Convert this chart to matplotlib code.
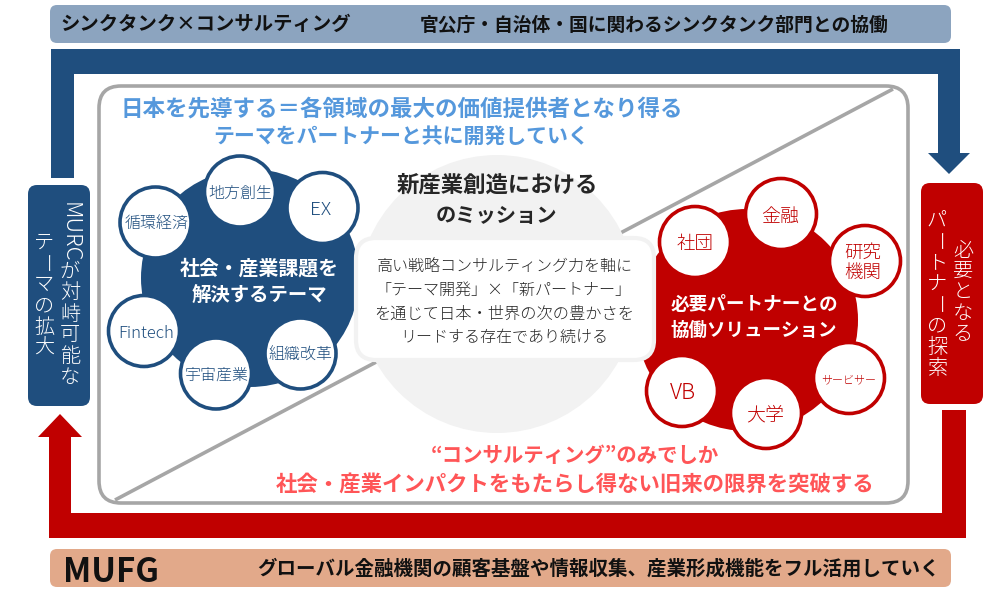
import matplotlib
matplotlib.use("Agg")
import matplotlib.pyplot as plt
from matplotlib.patches import Circle, FancyBboxPatch, Polygon

plt.rcParams['font.family'] = ['Noto Sans CJK JP', 'DejaVu Sans']

BLUE = '#1F4E7E'
RED = '#C00000'
GRAY = '#A6A6A6'
LIGHT = '#F2F2F2'
SKY = '#5598DC'
SALMON = '#FF5557'
DARK = '#262626'

top_left = 'シンクタンク×コンサルティング'
top_right = '官公庁・自治体・国に関わるシンクタンク部門との協働'
bottom_left = 'MUFG'
bottom_right = 'グローバル金融機関の顧客基盤や情報収集、産業形成機能をフル活用していく'
head_lines = ['日本を先導する＝各領域の最大の価値提供者となり得る', 'テーマをパートナーと共に開発していく']
foot_lines = ['“コンサルティング”のみでしか', '社会・産業インパクトをもたらし得ない旧来の限界を突破する']
mission_lines = ['新産業創造における', 'のミッション']
body_lines = ['高い戦略コンサルティング力を軸に', '「テーマ開発」×「新パートナー」',
              'を通じて日本・世界の次の豊かさを', 'リードする存在であり続ける']
blue_center = ['社会・産業課題を', '解決するテーマ']
red_center = ['必要パートナーとの', '協働ソリューション']
blue_labels = ['循環経済', '地方創生', 'EX', 'Fintech', '宇宙産業', '組織改革']
red_labels = ['社団', '金融', '研究\n機関', 'サービサー', '大学', 'VB']
left_box_col1 = 'が対峙可能な'
left_box_latin = 'MURC'
left_box_col2 = 'テーマの拡大'
right_box_col1 = '必要となる'
right_box_col2 = 'パートナーの探索'

fig = plt.figure(figsize=(10, 5.9), dpi=100)
ax = fig.add_axes([0, 0, 1, 1])
ax.set_xlim(0, 1000)
ax.set_ylim(590, 0)
ax.axis('off')
renderer = fig.canvas.get_renderer()


def rbox(x0, y0, x1, y1, r, fc, ec='none', lw=0, z=2):
    ax.add_patch(FancyBboxPatch((x0 + r, y0 + r), x1 - x0 - 2 * r, y1 - y0 - 2 * r,
                                boxstyle=f'round,pad={r},rounding_size={r}',
                                fc=fc, ec=ec, lw=lw, zorder=z))


def fit(s, x0, x1, y, color, weight='bold', z=10, size=14):
    t = ax.text((x0 + x1) / 2, y + 1, s, ha='center', va='center', color=color,
                fontweight=weight, fontsize=size, zorder=z)
    w = t.get_window_extent(renderer).width
    t.set_fontsize(size * (x1 - x0) / w)
    return t


def vertical(s, x, y0, step, color, size=14.5):
    for i, ch in enumerate(s):
        ax.text(x, y0 + i * step, ch, ha='center', va='center', color=color,
                fontsize=size, fontweight='light', rotation=-90 if ch == 'ー' else 0, zorder=10)


# header and footer bars
rbox(50, 5, 951, 43, 7, '#8CA4BF')
rbox(50, 549, 951, 587, 7, '#E2A98A')
fit(top_left, 60, 351, 23, '#111111')
fit(top_right, 419, 890, 24, '#111111')
fit(bottom_left, 63, 159, 571, '#111111')
fit(bottom_right, 256, 940, 568, '#111111')

# loop arrows
ax.add_patch(Polygon([(51, 178), (51, 49), (960, 49), (960, 153), (970, 153), (949, 174), (928, 153),
                      (938, 153), (938, 74), (74, 74), (74, 178)], fc=BLUE, ec='none', zorder=2))
ax.add_patch(Polygon([(966, 410), (966, 538), (49, 538), (49, 437), (38, 437), (60, 414), (82, 437),
                      (71, 437), (71, 513), (942, 513), (942, 410)], fc=RED, ec='none', zorder=2))

# side boxes
rbox(28, 185, 90, 406, 9, BLUE, z=3)
rbox(921, 183, 983, 404, 9, RED, z=3)
ax.text(70, 232, left_box_latin, rotation=-90, ha='center', va='center', color='white',
        fontsize=16, fontweight='light', zorder=10)
vertical(left_box_col1, 70, 272, 21, 'white')
vertical(left_box_col2, 44, 243, 21, 'white')
vertical(right_box_col1, 963, 251, 21, 'white')
vertical(right_box_col2, 937, 221, 21, 'white')

# central frame
rbox(99, 86, 908, 503, 22, 'white', GRAY, 2.6, z=3)
ax.plot([115, 893], [500, 89], color=GRAY, lw=2.6, zorder=4, solid_capstyle='butt')
ax.add_patch(Circle((497, 294), 139, fc=LIGHT, ec='none', zorder=5))

# blobs
ax.add_patch(Circle((250, 278), 109, fc=BLUE, ec='none', zorder=6))
ax.add_patch(Circle((747, 320), 111, fc=RED, ec='none', zorder=6))

# central text box
rbox(356, 238, 654, 360, 20, 'white', LIGHT, 3, z=7)

blue_xy = [(155.5, 222.5), (240, 191.5), (322.5, 208), (144, 331), (216, 373.5), (300.5, 353.5)]
red_xy = [(695, 242), (781, 214), (865, 261), (849, 378), (766, 413), (682, 391)]
blue_spans = [(125, 189), (208, 272), (310, 331), (118, 174), (185, 249), (268, 332)]
red_spans = [(677, 714), (761, 799), (844, 881), (821, 876), (746, 784), (670, 696)]

for s, xy, sp in zip(blue_labels, blue_xy, blue_spans):
    ax.add_patch(Circle(xy, 35.5, fc='white', ec=BLUE, lw=2.6, zorder=8))
    fit(s, sp[0], sp[1], xy[1] + 1, BLUE, weight='light')
for s, xy, sp in zip(red_labels, red_xy, red_spans):
    ax.add_patch(Circle(xy, 35.5, fc='white', ec=RED, lw=2.6, zorder=8))
    fit(s, sp[0], sp[1], xy[1] + 1, RED, weight='light')

fit(blue_center[0], 180, 339, 267, 'white')
fit(blue_center[1], 191, 327, 295, 'white')
fit(red_center[0], 670, 838, 303, 'white')
fit(red_center[1], 670, 837, 329, 'white')

fit(head_lines[0], 120, 684, 108, SKY)
fit(head_lines[1], 212, 590, 136, SKY)
fit(foot_lines[0], 430, 720, 454, SALMON)
fit(foot_lines[1], 274, 876, 483, SALMON)
fit(mission_lines[0], 396, 598, 184, DARK)
fit(mission_lines[1], 435, 557, 214, DARK)

fit(body_lines[0], 376, 633, 265, DARK, weight='light')
fit(body_lines[1], 375, 633, 289, DARK, weight='light')
fit(body_lines[2], 374, 635, 313, DARK, weight='light')
fit(body_lines[3], 400, 609, 336, DARK, weight='light')

fig.savefig('out.png', dpi=100)
